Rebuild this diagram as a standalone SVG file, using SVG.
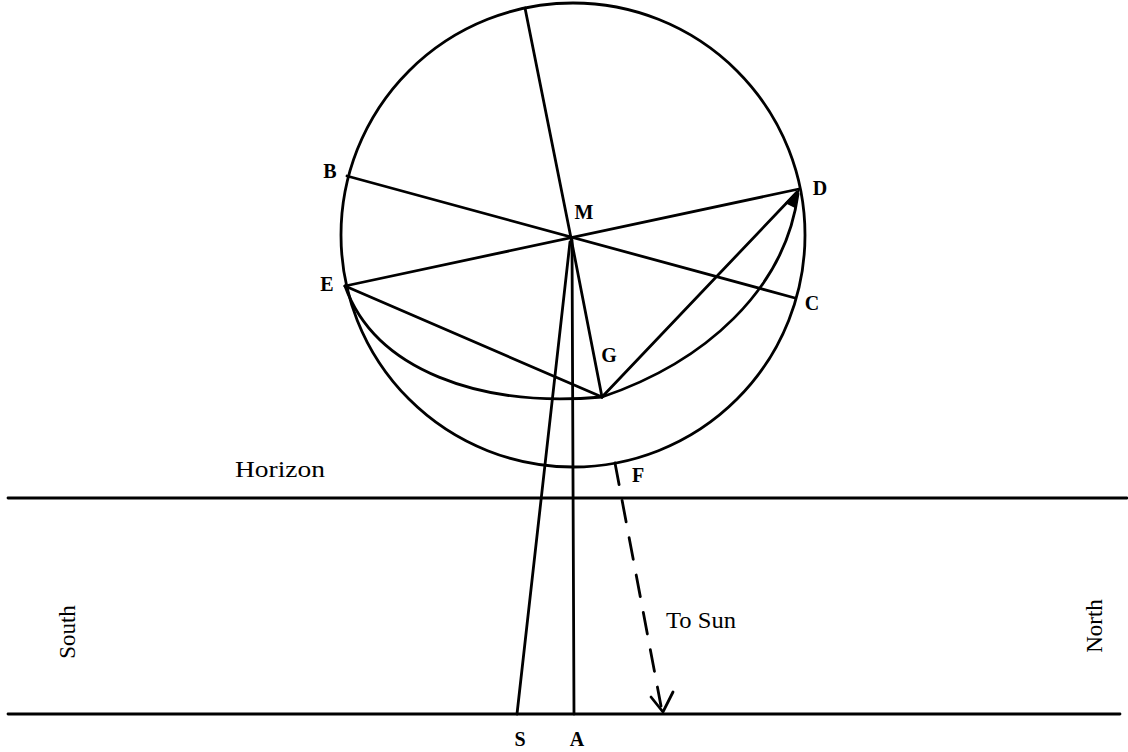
<svg xmlns="http://www.w3.org/2000/svg" width="1128" height="752" viewBox="0 0 1128 752">
<style>
.ln{stroke:#000;stroke-width:2.8;fill:none;stroke-linecap:round}
.lb{font-family:"Liberation Serif",serif;font-weight:bold;font-size:20px;fill:#000;text-anchor:middle}
.tx{font-family:"Liberation Serif",serif;font-size:23px;fill:#000}
</style>
<rect width="1128" height="752" fill="#fff"/>
<g id="connectors">
<circle id="sphere" class="ln" cx="573" cy="235" r="232"/>
<line class="ln" x1="525" y1="8" x2="571" y2="238"/>
<line class="ln" x1="347" y1="176" x2="795" y2="298"/>
<line class="ln" x1="345" y1="286" x2="799" y2="189"/>
<line class="ln" x1="345" y1="286" x2="602" y2="397"/>
<line class="ln" x1="571" y1="238" x2="602" y2="397"/>
<line class="ln" x1="602" y1="397" x2="797" y2="192"/>
<path class="ln" d="M345,286 C375,370 480,408 602,397"/>
<path class="ln" d="M602,397 C705,362 785,290 798,194" stroke-width="3.4"/>
<polygon points="800,188 785,203 795,208" fill="#000"/>
<line class="ln" x1="570" y1="242" x2="517" y2="714"/>
<line class="ln" x1="572" y1="240" x2="574" y2="714"/>
<line class="ln" x1="8" y1="498" x2="1127" y2="498"/>
<line class="ln" x1="8" y1="714" x2="1120" y2="714"/>
<line class="ln" x1="615" y1="463" x2="661" y2="706" stroke-dasharray="22 16" stroke-width="3"/>
<polyline class="ln" points="651,697 663,712 673,692" stroke-width="3.4"/>
</g>
<g id="labels">
<text class="lb" x="330" y="178">B</text>
<text class="lb" x="584" y="219">M</text>
<text class="lb" x="820" y="195">D</text>
<text class="lb" x="327" y="291">E</text>
<text class="lb" x="812" y="310">C</text>
<text class="lb" x="609" y="362">G</text>
<text class="lb" x="638" y="482">F</text>
<text class="lb" x="520" y="746">S</text>
<text class="lb" x="577" y="746">A</text>
<text class="tx" x="235" y="477" textLength="90" lengthAdjust="spacingAndGlyphs">Horizon</text>
<text class="tx" x="666" y="628" textLength="70" lengthAdjust="spacingAndGlyphs">To Sun</text>
<text class="tx" transform="translate(75,632) rotate(-90)" text-anchor="middle">South</text>
<text class="tx" transform="translate(1102,626) rotate(-90)" text-anchor="middle">North</text>
</g>
</svg>
